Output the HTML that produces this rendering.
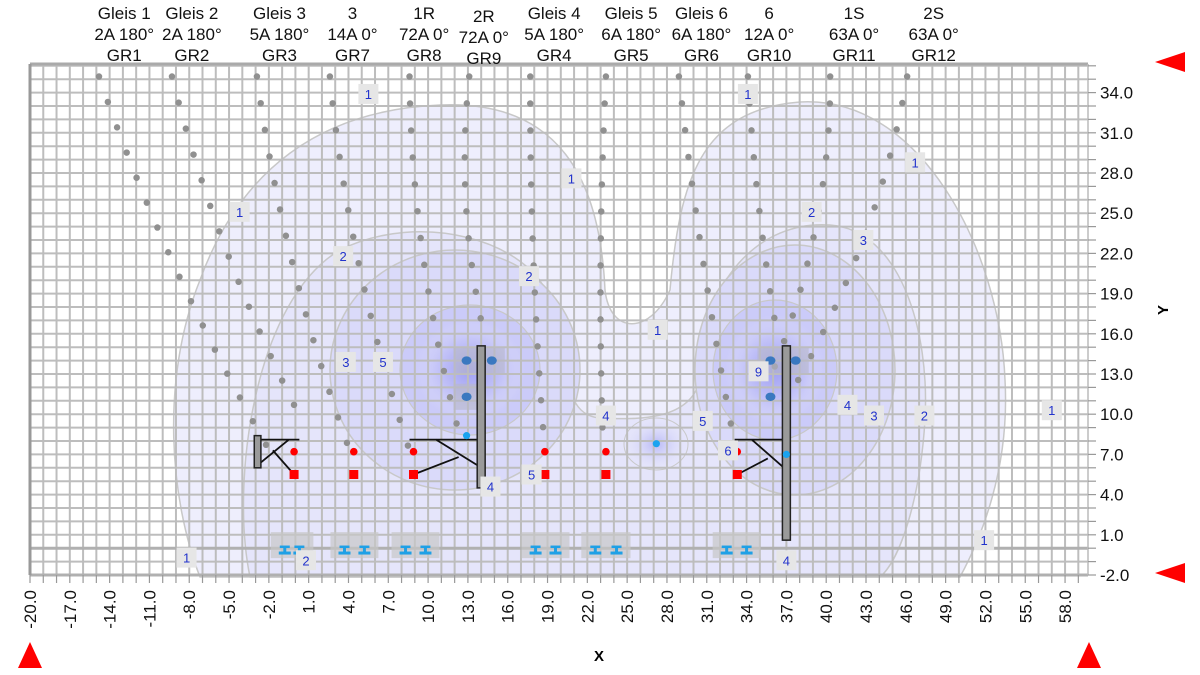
<!DOCTYPE html>
<html><head><meta charset="utf-8"><style>
body{margin:0;background:#fff;font-family:"Liberation Sans",sans-serif;}
svg{display:block}
</style></head><body>
<svg id="chart" width="1200" height="675" xmlns="http://www.w3.org/2000/svg">
<defs>
<radialGradient id="hotL" cx="50%" cy="50%" r="50%"><stop offset="0" stop-color="#9f9ff2"/><stop offset="0.6" stop-color="#c4c4f8"/><stop offset="1" stop-color="#dcdcfa" stop-opacity="0"/></radialGradient>
<radialGradient id="hotB" cx="50%" cy="50%" r="50%"><stop offset="0" stop-color="#b8b8f5"/><stop offset="1" stop-color="#e0e0fa" stop-opacity="0"/></radialGradient>
</defs>
<g id="contours">
<path d="M 200 577 C 170 500, 160 380, 200 280 C 240 170, 320 110, 440 105 C 560 100, 600 180, 605 290 C 610 335, 650 335, 670 290 C 680 180, 700 110, 800 102 C 920 95, 1000 250, 1005 380 C 1010 470, 980 540, 960 577 Z" fill="#eeeefd" stroke="#c8c8c8" stroke-width="1.5"/>
<path d="M 250 577 C 230 480, 255 300, 340 250 C 420 210, 530 240, 550 300 C 570 360, 560 415, 600 418 C 640 420, 690 420, 700 380 C 700 280, 760 220, 830 225 C 900 230, 930 330, 925 420 C 920 500, 900 560, 880 577 Z" fill="#e5e5fb" stroke="#c8c8c8" stroke-width="1.5"/>
<ellipse cx="455" cy="370" rx="125" ry="120" fill="#dadafa" stroke="#c8c8c8" stroke-width="1.5"/>
<ellipse cx="795" cy="370" rx="100" ry="125" fill="#dadafa" stroke="#c8c8c8" stroke-width="1.5"/>
<ellipse cx="470" cy="370" rx="70" ry="65" fill="#cbcbf9" stroke="#c8c8c8" stroke-width="1.2"/>
<ellipse cx="775" cy="370" rx="62" ry="70" fill="#cbcbf9" stroke="#c8c8c8" stroke-width="1.2"/>
<ellipse cx="470" cy="370" rx="55" ry="50" fill="url(#hotL)"/>
<ellipse cx="775" cy="370" rx="50" ry="55" fill="url(#hotL)"/>
<ellipse cx="656" cy="444" rx="32" ry="26" fill="url(#hotB)" stroke="#c8c8c8" stroke-width="1"/>
</g>
<g id="grid"></g>
<g id="plot"></g>
<g id="axes"></g>
</svg>
<script>
const xTicks=[-20,-17,-14,-11,-8,-5,-2,1,4,7,10,13,16,19,22,25,28,31,34,37,40,43,46,49,52,55,58];
const yTicks=[-2,1,4,7,10,13,16,19,22,25,28,31,34];
const headerL1=["Gleis 1","Gleis 2","Gleis 3","3","1R","2R","Gleis 4","Gleis 5","Gleis 6","6","1S","2S"];
const headerL2=["2A 180°","2A 180°","5A 180°","14A 0°","72A 0°","72A 0°","5A 180°","6A 180°","6A 180°","12A 0°","63A 0°","63A 0°"];
const headerL3=["GR1","GR2","GR3","GR7","GR8","GR9","GR4","GR5","GR6","GR10","GR11","GR12"];
const headerX=[-12.9,-7.8,-1.2,4.3,9.7,14.2,19.5,25.3,30.6,35.7,42.1,48.1];
const wireX=[-0.1,4.4,8.9,18.8,23.4,33.3];
const wireY=[7.2,7.2,7.2,7.2,7.2,7.2];
const feedY=[5.5,5.5,5.5,5.5,5.5,5.5];
const railX=[-0.8,0.3,3.7,5.2,8.3,9.8,18.1,19.6,22.6,24.2,32.5,34.0];
const railY=[-0.1,-0.1,-0.1,-0.1,-0.1,-0.1,-0.1,-0.1,-0.1,-0.1,-0.1,-0.1];
const condX=[12.9,14.8,12.9,35.8,37.7,35.8];
const condY=[14.0,14.0,11.3,14.0,14.0,11.3];
const lbX=[12.9,27.2,37.0];
const lbY=[8.4,7.8,7.0];
const lineTopX=[-14.8,-9.3,-2.9,2.6,8.6,13.1,17.7,23.4,28.9,34.1,40.3,46.1];
const lineBotX=[-1.8,0.3,4.2,8.6,12.2,14.3,18.8,23.2,33.2,36.4,35.9,37.8];
const lineBotY=[7.0,9.9,7.0,7.3,9.1,15.6,7.3,7.3,7.3,15.4,13.0,12.4];
const lblText=["1","1","1","1","1","1","1","1","1","2","2","2","2","2","3","3","3","4","4","4","4","5","5","5","6","9"];
const lblX=[5.5,34.1,20.8,-4.2,46.7,27.3,57.0,-8.2,51.9,3.6,17.6,38.9,47.4,0.8,3.8,42.8,43.6,14.7,23.4,41.6,37.0,6.6,17.8,30.7,32.6,34.9];
const lblY=[33.9,33.9,27.6,25.1,28.8,16.3,10.3,-0.7,0.6,21.8,20.3,25.1,9.9,-0.9,13.9,23.0,9.9,4.6,9.9,10.7,-0.9,13.9,5.5,9.5,7.3,13.2];

const NS='http://www.w3.org/2000/svg';
const X=v=>30+(v+20)*13.27, Y=v=>575-(v+2)*13.4;
function mk(tag,attrs,parent){const e=document.createElementNS(NS,tag);for(const k in attrs)e.setAttribute(k,attrs[k]);parent.appendChild(e);return e;}
const svg=document.getElementById('chart'),grid=document.getElementById('grid'),plot=document.getElementById('plot'),axes=document.getElementById('axes');
const L=X(-20),R=1088,T=64,B=Y(-2);
for(let v=-20;v<=59;v++){const l=mk('line',{x1:X(v),x2:X(v),y1:T,y2:B,stroke:'#bdbdbd','stroke-width':2},grid);

const t=mk('line',{x1:X(v),x2:X(v),y1:B,y2:B+8,stroke:'#999','stroke-width':1.2},axes);
}
for(let v=-2;v<=36;v++){const l=mk('line',{x1:L,x2:R,y1:Y(v),y2:Y(v),stroke:'#bdbdbd','stroke-width':2},grid);

const t=mk('line',{x1:R,x2:R+8,y1:Y(v),y2:Y(v),stroke:'#999','stroke-width':1.2},axes);
}
mk('line',{x1:L,x2:R,y1:Y(0),y2:Y(0),stroke:'#b0b0b0','stroke-width':3},grid);
mk('line',{x1:L,x2:R,y1:B,y2:B,stroke:'#b0b0b0','stroke-width':3},grid);
mk('line',{x1:L,x2:R,y1:T,y2:T,stroke:'#aaa','stroke-width':3},grid);
mk('line',{x1:L,x2:L,y1:T,y2:B,stroke:'#999','stroke-width':3},grid);
mk('line',{x1:R,x2:R,y1:T,y2:B,stroke:'#bbb','stroke-width':1.5},grid);

xTicks.forEach(v=>{const t=mk('text',{x:0,y:0,transform:`translate(${X(v)+6},590) rotate(-90)`,'text-anchor':'end','font-size':17,fill:'#111'},axes);t.textContent=v.toFixed(1);
});
yTicks.forEach(v=>{const t=mk('text',{x:1100,y:Y(v)+6,'font-size':17,fill:'#111'},axes);t.textContent=v.toFixed(1);
});
let xt=mk('text',{x:599,y:661,'font-size':15,'font-weight':'bold','text-anchor':'middle'},axes);xt.textContent='X';

let yt=mk('text',{x:0,y:0,transform:'translate(1168,310) rotate(-90)','font-size':15,'font-weight':'bold','text-anchor':'middle'},axes);yt.textContent='Y';


headerX.forEach((v,i)=>{const dy=i===5?3:0;[headerL1,headerL2,headerL3].forEach((arr,j)=>{const t=mk('text',{x:X(v),y:19+j*21+dy,'font-size':17,'text-anchor':'middle',fill:'#111'},axes);t.textContent=arr[i];
});});

lineTopX.forEach((v,i)=>{const x1=X(v),y1=Y(35.2),x2=X(lineBotX[i]),y2=Y(lineBotY[i]);const cx=(x1+x2)/2+(i<6?-22:(i>9?30:-8)),cy=(y1+y2)/2;
const p=mk('path',{d:`M${x1} ${y1} Q${cx} ${cy} ${x2} ${y2}`,fill:'none',stroke:'#909090','stroke-width':6.5,'stroke-linecap':'round','stroke-dasharray':'0 27'},plot);
});

railX.forEach((v,i)=>{if(i%2===0){const b=mk('rect',{x:X(v)-14,y:Y(1.2),width:X(railX[i+1])-X(v)+28,height:26,fill:'#c8c8c8',opacity:0.7},plot);
}});
railX.forEach((v,i)=>{const g=mk('g',{fill:'#1fa0e6'},plot);
const x=X(v),y=Y(railY[i]);mk('rect',{x:x-5,y:y-4,width:10,height:2.5},g);mk('rect',{x:x-1.5,y:y-2,width:3,height:5},g);mk('rect',{x:x-6,y:y+2,width:12,height:3},g);});

function mast(x1,y1,x2,y2,name){const r=mk('rect',{x:X(x1),y:Y(y2),width:X(x2)-X(x1),height:Y(y1)-Y(y2),fill:'#9a9a9a',stroke:'#222','stroke-width':1.5},plot);
}
function ln(a,b,c,d){mk('line',{x1:X(a),y1:Y(b),x2:X(c),y2:Y(d),stroke:'#111','stroke-width':1.8},plot);}
[[12.9,14],[14.8,14],[12.9,11.3],[35.8,14],[37.7,14]].forEach(c=>{const b=mk('rect',{x:X(c[0])-13,y:Y(c[1])-13,width:26,height:26,fill:'#b8b8c8',opacity:0.6},plot);
});
ln(-2.6,8.1,0.3,8.1);ln(-0.5,8.1,-2.6,6.4);ln(-1.7,7.3,-0.1,5.5);mast(-3.1,6.0,-2.6,8.4,'mast-left');
ln(8.6,8.1,13.7,8.1);ln(10.6,8.1,13.7,6.2);ln(8.9,5.5,12.3,6.8);mast(13.7,4.5,14.3,15.1,'mast-center');
ln(33.1,8.1,36.7,8.1);ln(34.4,8.1,36.7,6.1);ln(33.3,5.5,35.6,6.7);mast(36.7,0.6,37.3,15.1,'mast-right');

wireX.forEach((v,i)=>{const c=mk('circle',{cx:X(v),cy:Y(wireY[i]),r:3.8,fill:'#f00'},plot);
const s=mk('rect',{x:X(v)-4.5,y:Y(feedY[i])-4.5,width:9,height:9,fill:'#f00'},plot);});
condX.forEach((v,i)=>{const c=mk('ellipse',{cx:X(v),cy:Y(condY[i]),rx:5,ry:4.2,fill:'#3a78c0'},plot);});
lbX.forEach((v,i)=>{const c=mk('circle',{cx:X(v),cy:Y(lbY[i]),r:3.6,fill:'#1aa3ef'},plot);});

lblText.forEach((s,i)=>{const g=mk('g',{},plot);
const x=X(lblX[i]),y=Y(lblY[i]);mk('rect',{x:x-10,y:y-10,width:20,height:20,fill:'#e6e6e6'},g);
const t=mk('text',{x:x,y:y+5,'font-size':13,fill:'#2233cc','text-anchor':'middle'},g);t.textContent=s;});

[[`${1155},62 ${1185},52 ${1185},72`,'y-max-marker'],[`${1155},573 ${1185},563 ${1185},583`,'y-min-marker'],[`${18},668 ${30},642 ${42},668`,'x-min-marker'],[`${1077},668 ${1089},642 ${1101},668`,'x-max-marker']].forEach(p=>{
const e=mk('polygon',{points:p[0],fill:'#f00'},axes);});
</script>
</body></html>
